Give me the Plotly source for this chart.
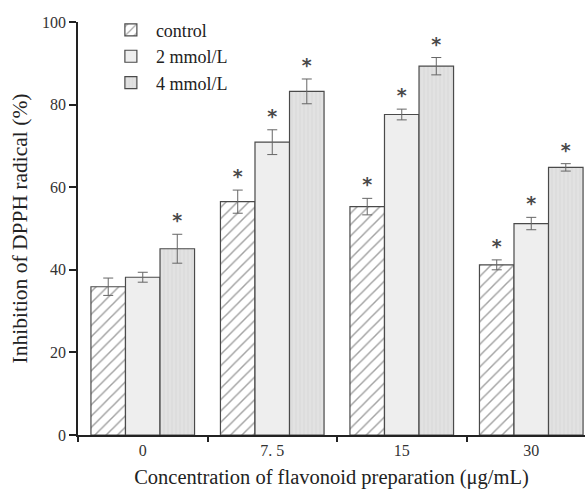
import plotly.graph_objects as go

categories = ["0", "7. 5", "15", "30"]
series_names = ["control", "2 mmol/L", "4 mmol/L"]
control = [35.9, 56.5, 55.3, 41.2]
control_err = [2.1, 2.8, 2.0, 1.2]
mm2 = [38.2, 70.9, 77.6, 51.2]
mm2_err = [1.2, 3.0, 1.3, 1.5]
mm4 = [45.1, 83.2, 89.3, 64.8]
mm4_err = [3.5, 3.0, 2.1, 0.9]
# significance markers (True -> asterisk)
control_sig = [False, True, True, True]
mm2_sig = [False, True, True, True]
mm4_sig = [True, True, True, True]

font_family = "Liberation Serif"
edge = "#4a4a4a"

styles = [
    dict(color="white", pattern=dict(shape="/", fgcolor="#444444", bgcolor="white", size=8, solidity=0.18)),
    dict(color="#eeeeee", pattern=dict(shape="")),
    dict(color="#dedede", pattern=dict(shape="|", fgcolor="#d0d0d0", bgcolor="#e2e2e2", size=4, solidity=0.3)),
]

fig = go.Figure()
data = [(control, control_err, control_sig), (mm2, mm2_err, mm2_sig), (mm4, mm4_err, mm4_sig)]
for i, (vals, errs, sig) in enumerate(data):
    fig.add_trace(go.Bar(
        x=categories, y=vals, name=series_names[i],
        offsetgroup=str(i),
        marker=dict(color=styles[i]["color"], pattern=styles[i]["pattern"],
                    line=dict(color=edge, width=1.2)),
        error_y=dict(type="data", array=errs, color="#666666", thickness=1, width=5),
    ))

# asterisks placed above error bars, aligned with each bar
for i, (vals, errs, sig) in enumerate(data):
    ys = [v + e if s else None for v, e, s in zip(vals, errs, sig)]
    fig.add_trace(go.Bar(
        x=categories, y=[0] * len(categories), base=ys,
        offsetgroup=str(i), showlegend=False, hoverinfo="skip",
        marker=dict(color="rgba(0,0,0,0)", line=dict(width=0)),
        text=["<b>*</b>" if s else "" for s in sig], textposition="outside",
        textfont=dict(family="DejaVu Sans", size=19, color="#4a4a4a"),
        cliponaxis=False,
    ))

fig.update_layout(
    width=585, height=492,
    margin=dict(l=78, r=0, t=22, b=57),
    paper_bgcolor="white", plot_bgcolor="white",
    barmode="group", bargap=0.2, bargroupgap=0,
    font=dict(family=font_family, size=16, color="#222222"),
    showlegend=True,
    legend=dict(x=0.055, y=1.025, xanchor="left", yanchor="top",
                font=dict(family=font_family, size=18, color="#222222"),
                bgcolor="rgba(0,0,0,0)", tracegroupgap=0, itemwidth=40),
)
fig.update_xaxes(
    type="category", range=[-0.5, 3.415],
    showline=True, linecolor="#222222", linewidth=1.5,
    ticks="outside", tickson="boundaries", ticklen=5, tickwidth=1.5, tickcolor="#222222",
    tickfont=dict(family=font_family, size=16, color="#333333"),
    title=dict(text="Concentration of flavonoid preparation (μg/mL)",
               font=dict(family=font_family, size=20.5, color="#222222"), standoff=12),
    showgrid=False, zeroline=False,
)
fig.update_yaxes(
    range=[0, 100], tickvals=[0, 20, 40, 60, 80, 100],
    showline=True, linecolor="#222222", linewidth=1.5,
    ticks="outside", ticklen=7, tickwidth=1.5, tickcolor="#222222",
    tickfont=dict(family=font_family, size=16, color="#333333"),
    title=dict(text="Inhibition of DPPH radical (%)",
               font=dict(family=font_family, size=21.5, color="#222222"), standoff=9),
    showgrid=False, zeroline=False,
)

fig.write_html("out.html")
